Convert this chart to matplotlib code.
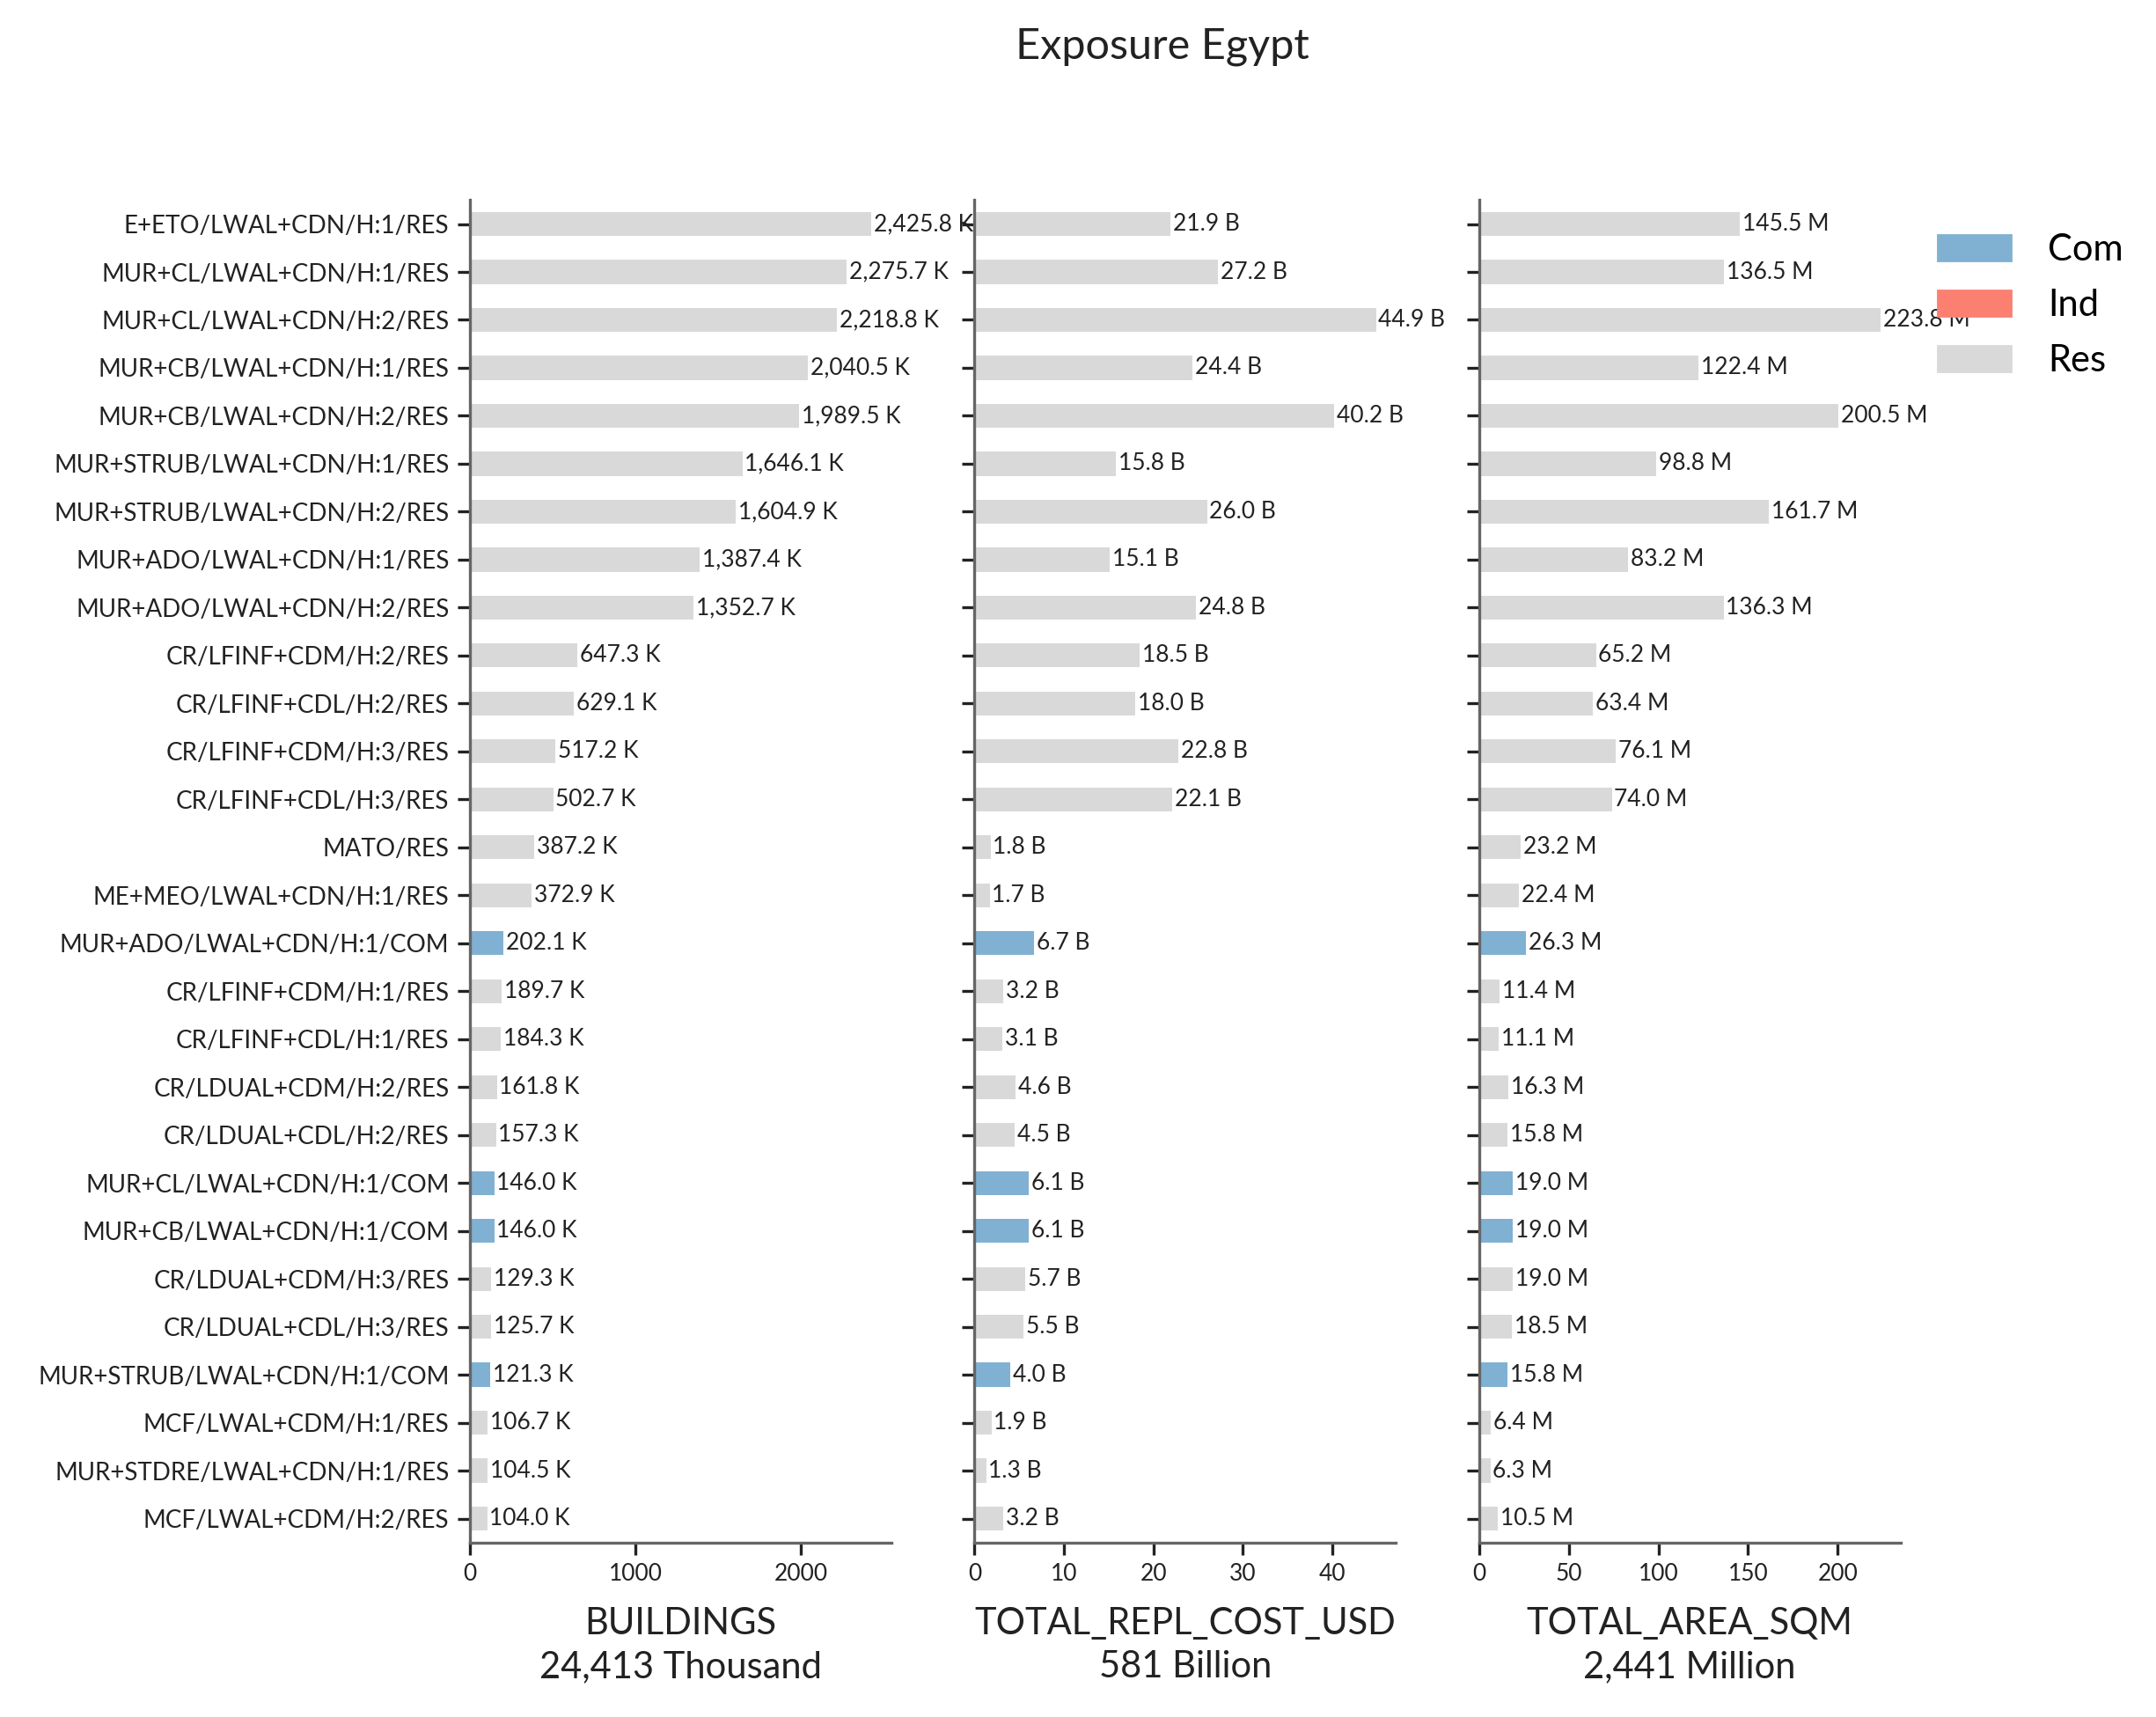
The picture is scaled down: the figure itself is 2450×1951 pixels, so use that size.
import matplotlib
matplotlib.use("Agg")
import matplotlib.pyplot as plt
from matplotlib.patches import Patch

plt.rcParams['font.family'] = ['Lato', 'DejaVu Sans']

categories = [
    "E+ETO/LWAL+CDN/H:1/RES", "MUR+CL/LWAL+CDN/H:1/RES", "MUR+CL/LWAL+CDN/H:2/RES",
    "MUR+CB/LWAL+CDN/H:1/RES", "MUR+CB/LWAL+CDN/H:2/RES", "MUR+STRUB/LWAL+CDN/H:1/RES",
    "MUR+STRUB/LWAL+CDN/H:2/RES", "MUR+ADO/LWAL+CDN/H:1/RES", "MUR+ADO/LWAL+CDN/H:2/RES",
    "CR/LFINF+CDM/H:2/RES", "CR/LFINF+CDL/H:2/RES", "CR/LFINF+CDM/H:3/RES",
    "CR/LFINF+CDL/H:3/RES", "MATO/RES", "ME+MEO/LWAL+CDN/H:1/RES",
    "MUR+ADO/LWAL+CDN/H:1/COM", "CR/LFINF+CDM/H:1/RES", "CR/LFINF+CDL/H:1/RES",
    "CR/LDUAL+CDM/H:2/RES", "CR/LDUAL+CDL/H:2/RES", "MUR+CL/LWAL+CDN/H:1/COM",
    "MUR+CB/LWAL+CDN/H:1/COM", "CR/LDUAL+CDM/H:3/RES", "CR/LDUAL+CDL/H:3/RES",
    "MUR+STRUB/LWAL+CDN/H:1/COM", "MCF/LWAL+CDM/H:1/RES", "MUR+STDRE/LWAL+CDN/H:1/RES",
    "MCF/LWAL+CDM/H:2/RES",
]

buildings_k = [2425.8, 2275.7, 2218.8, 2040.5, 1989.5, 1646.1, 1604.9, 1387.4, 1352.7,
               647.3, 629.1, 517.2, 502.7, 387.2, 372.9, 202.1, 189.7, 184.3, 161.8,
               157.3, 146.0, 146.0, 129.3, 125.7, 121.3, 106.7, 104.5, 104.0]
cost_b = [21.9, 27.2, 44.9, 24.4, 40.2, 15.8, 26.0, 15.1, 24.8, 18.5, 18.0, 22.8, 22.1,
          1.8, 1.7, 6.7, 3.2, 3.1, 4.6, 4.5, 6.1, 6.1, 5.7, 5.5, 4.0, 1.9, 1.3, 3.2]
area_m = [145.5, 136.5, 223.8, 122.4, 200.5, 98.8, 161.7, 83.2, 136.3, 65.2, 63.4, 76.1,
          74.0, 23.2, 22.4, 26.3, 11.4, 11.1, 16.3, 15.8, 19.0, 19.0, 19.0, 18.5, 15.8,
          6.4, 6.3, 10.5]

metrics = ["BUILDINGS", "TOTAL_REPL_COST_USD", "TOTAL_AREA_SQM"]
totals = ["24,413 Thousand", "581 Billion", "2,441 Million"]
units = ["K", "B", "M"]
legend_labels = ["Com", "Ind", "Res"]
palette = {"Com": "#80b1d3", "Ind": "#fb8072", "Res": "#d9d9d9"}

occ = [c.split("/")[-1].capitalize() for c in categories]
colors = [palette[o] for o in occ]

fig = plt.figure(figsize=(12.25, 9.755), dpi=200)
lefts = [0.218, 0.452, 0.686]
width = 0.1955
bottom, top = 0.1016, 0.8835
axes = [fig.add_axes([l, bottom, width, top - bottom]) for l in lefts]

series = [buildings_k, cost_b, area_m]
ypos = list(range(len(categories)))
for i, (ax, vals) in enumerate(zip(axes, series)):
    bars = ax.barh(ypos, vals, height=0.5, color=colors)
    ax.set_ylim(27.5, -0.5)
    ax.set_yticks(ypos)
    if i == 0:
        ax.set_yticklabels(categories, fontsize=10, color="#222222")
    else:
        ax.set_yticklabels([])
    labels = [f"{v:,.1f} {units[i]}" for v in vals]
    ax.bar_label(bars, labels=labels, padding=1, fontsize=9.5, color="#222222")
    for s in ["top", "right"]:
        ax.spines[s].set_visible(False)
    for s in ["left", "bottom"]:
        ax.spines[s].set_color("#666666")
        ax.spines[s].set_linewidth(1.2)
    ax.tick_params(axis="x", labelsize=9.5)
    ax.tick_params(axis="both", length=5, width=1.2, color="#222222",
                   labelcolor="#222222")
    ax.set_xlabel(f"{metrics[i]}\n{totals[i]}", fontsize=15, color="#222222",
                  labelpad=9, linespacing=1.35)

axes[0].set_xticks([0, 1000, 2000])
axes[1].set_xticks([0, 10, 20, 30, 40])
axes[2].set_xticks([0, 50, 100, 150, 200])

handles = [Patch(color=palette[k]) for k in legend_labels]
fig.legend(handles, legend_labels, loc="upper left", bbox_to_anchor=(0.8835, 0.8835),
           frameon=False, fontsize=15, handlelength=2.0, handleheight=0.7,
           labelspacing=0.6, handletextpad=1.0)

fig.suptitle("Exposure Egypt", fontsize=17.5, x=0.539, y=0.984, color="#222222")

fig.savefig("out.png", dpi=200)
